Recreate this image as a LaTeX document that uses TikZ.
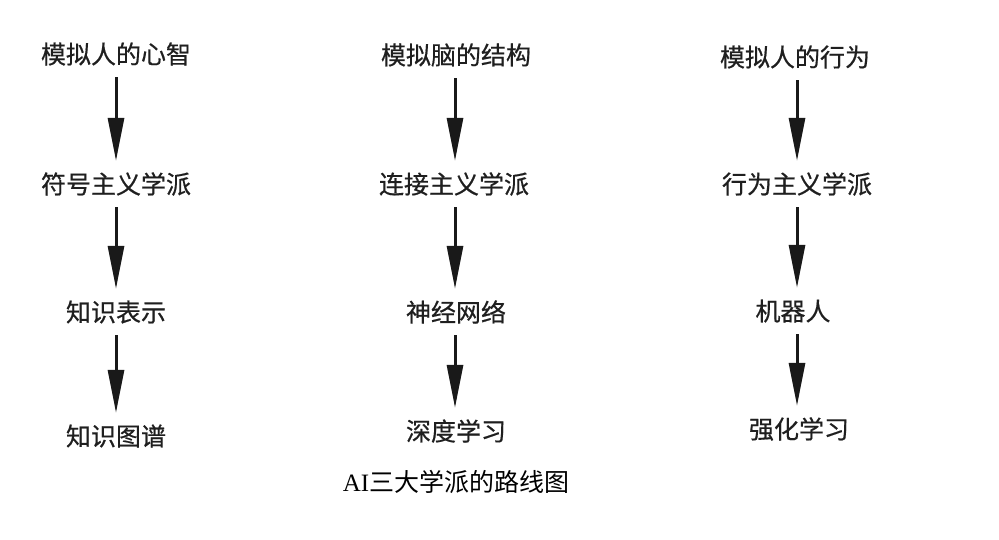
\documentclass[tikz,border=0pt]{standalone}
\usepackage{fontspec}
\setmainfont{Liberation Serif}
\newfontfamily\cjk{Noto Sans CJK SC}[FakeBold=0.6]
\newfontfamily\cjkcap{Noto Sans CJK SC}
\usetikzlibrary{arrows.meta}
\begin{document}
\begin{tikzpicture}[x=1pt,y=-1pt,
  lbl/.style={inner sep=0pt, minimum height=46pt, font=\cjk\fontsize{25}{25}\selectfont, text=black!88},
  arr/.style={line width=3pt, -{Triangle[length=43pt,width=16pt]}, black!90}]
\useasboundingbox (0,0) rectangle (999,540);
% column 1
\node[lbl] (a1) at (116,54) {模拟人的心智};
\node[lbl] (a2) at (116,184) {符号主义学派};
\node[lbl] (a3) at (116,312) {知识表示};
\node[lbl] (a4) at (116,436) {知识图谱};
% column 2
\node[lbl] (b1) at (456,55) {模拟脑的结构};
\node[lbl] (b2) at (454,184) {连接主义学派};
\node[lbl] (b3) at (456,312) {神经网络};
\node[lbl] (b4) at (456,431) {深度学习};
% column 3
\node[lbl] (c1) at (795,57) {模拟人的行为};
\node[lbl] (c2) at (797,184) {行为主义学派};
\node[lbl] (c3) at (793,311) {机器人};
\node[lbl] (c4) at (799,429) {强化学习};
% arrows
\draw[arr] (a1.south) -- (a1.south |- a2.north);
\draw[arr] (a2.south) -- (a2.south |- a3.north);
\draw[arr] (a3.south) -- (a3.south |- a4.north);
\draw[arr] ([xshift=-1pt]b1.south) -- ([xshift=-1pt]b1.south |- b2.north);
\draw[arr] ([xshift=1pt]b2.south) -- ([xshift=1pt]b2.south |- b3.north);
\draw[arr] ([xshift=-1pt]b3.south) -- ([xshift=-1pt]b3.south |- b4.north);
\draw[arr] ([xshift=2pt]c1.south) -- ([xshift=2pt]c1.south |- c2.north);
\draw[arr] (c2.south) -- (c2.south |- c3.north);
\draw[arr] ([xshift=4pt]c3.south) -- ([xshift=4pt]c3.south |- c4.north);
% caption
\node[inner sep=0pt, font=\fontsize{25}{25}\selectfont] (cap) at (456,482) {AI{\cjkcap 三大学派的路线图}};
\end{tikzpicture}
\end{document}
